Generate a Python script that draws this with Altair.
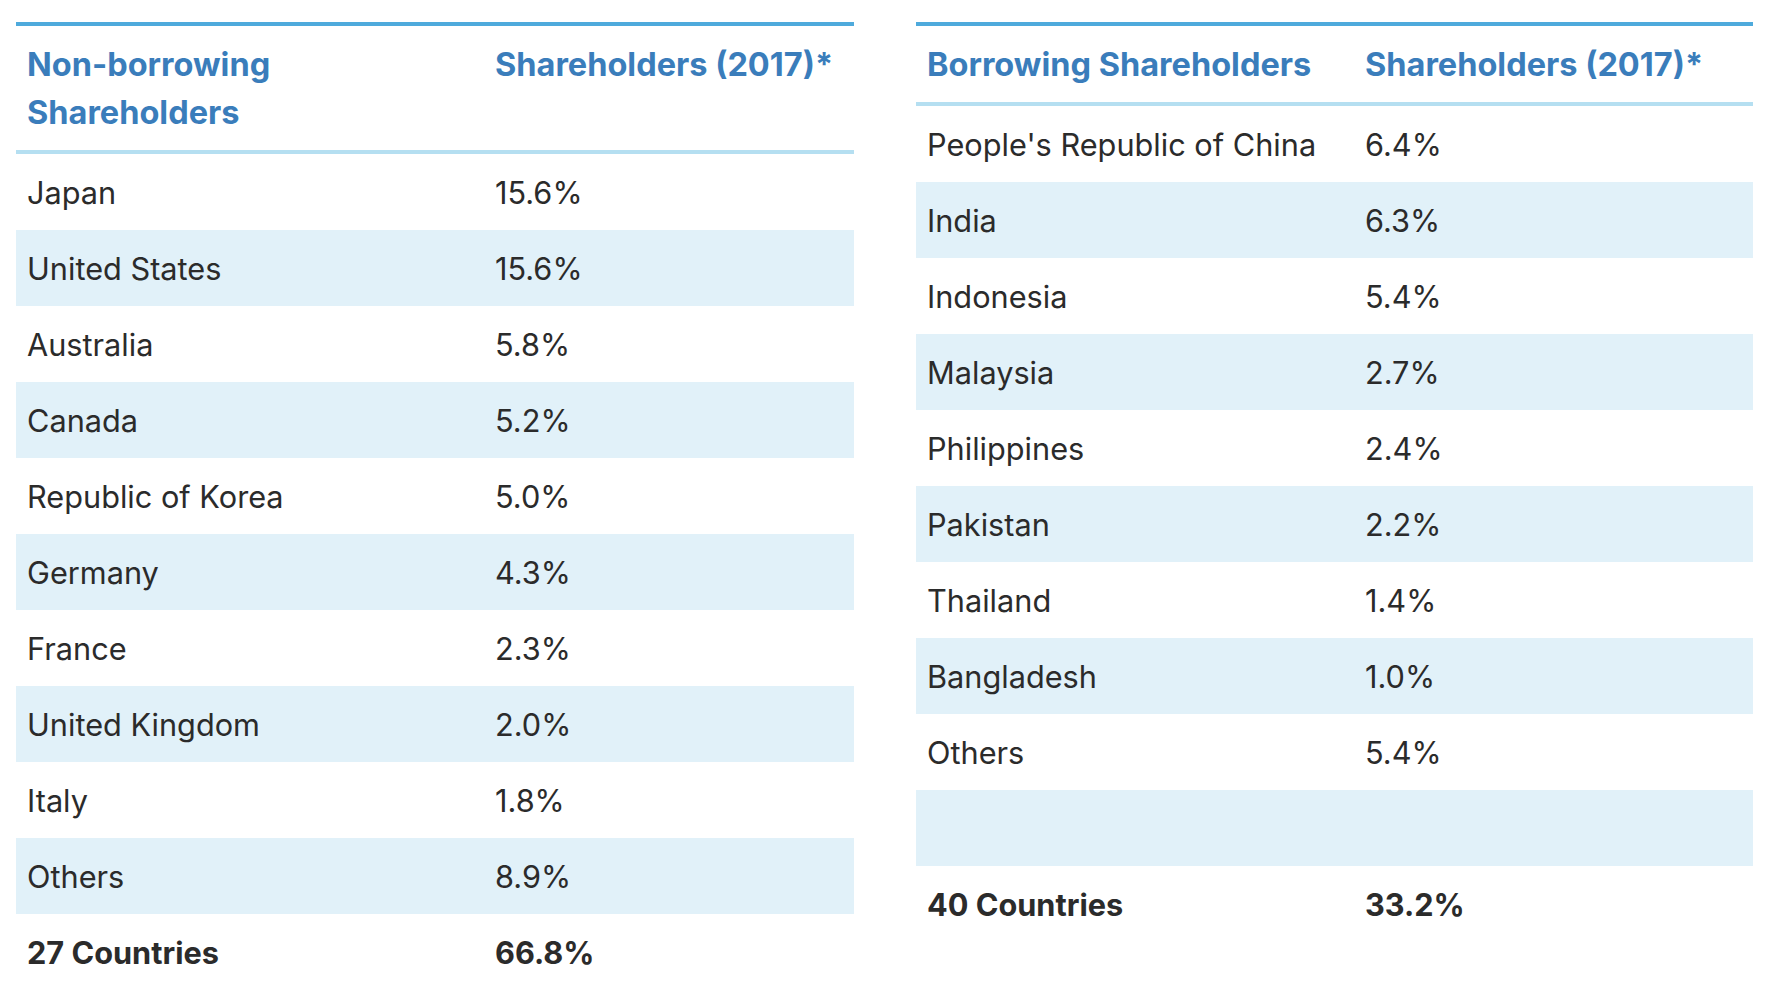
import altair as alt
import pandas as pd

# ---- data ----
left_header_lines = ["Non-borrowing", "Shareholders"]
left_value_header = "Shareholders (2017)*"
left_countries = ["Japan", "United States", "Australia", "Canada", "Republic of Korea",
                  "Germany", "France", "United Kingdom", "Italy", "Others"]
left_shares = [15.6, 15.6, 5.8, 5.2, 5.0, 4.3, 2.3, 2.0, 1.8, 8.9]
left_total_label = "27 Countries"
left_total_value = 66.8

right_header_lines = ["Borrowing Shareholders"]
right_value_header = "Shareholders (2017)*"
right_countries = ["People's Republic of China", "India", "Indonesia", "Malaysia",
                   "Philippines", "Pakistan", "Thailand", "Bangladesh", "Others"]
right_shares = [6.4, 6.3, 5.4, 2.7, 2.4, 2.2, 1.4, 1.0, 5.4]
right_total_label = "40 Countries"
right_total_value = 33.2

# ---- styles ----
FONT = "Inter"
FS = 30.7
HFS = 32.5
TEXT_COLOR = "#2b2b2b"
HEAD_COLOR = "#3a7dbb"
TOP_LINE = "#4eaadc"
HEAD_LINE = "#b5dff1"
BAND = "#e1f1f9"
ROW_H = 76
LINE_H = 48
PAD_X = 11
PANEL_H = 968
TEXT_SHIFT = 3
HEAD_SHIFT = 2


def make_table(header_lines, value_header, countries, shares, total_label,
               total_value, n_rows, width, value_x):
    header_h = 4 + 28 + LINE_H * len(header_lines)
    rows_top = header_h + 4
    labels = countries + [""] * (n_rows - len(countries)) + [total_label]
    values = [f"{v:.1f}%" for v in shares] + [""] * (n_rows - len(countries)) + [f"{total_value:.1f}%"]
    recs = []
    for i, (lab, val) in enumerate(zip(labels, values)):
        top = rows_top + ROW_H * i
        recs.append(dict(i=i, label=lab, value=val, top=top, bottom=top + ROW_H,
                         mid=top + ROW_H / 2 + TEXT_SHIFT, total=(i == len(labels) - 1),
                         band=(i % 2 == 1)))
    df = pd.DataFrame(recs)

    xs = alt.Scale(domain=[0, width], nice=False, zero=False)
    ys = alt.Scale(domain=[0, PANEL_H], nice=False, zero=False, reverse=True)

    base = alt.Chart(df)
    bands = base.transform_filter("datum.band").mark_rect(color=BAND).encode(
        x=alt.X("x0:Q", scale=xs, axis=None), x2="x1:Q",
        y=alt.Y("top:Q", scale=ys, axis=None), y2="bottom:Q",
    ).transform_calculate(x0="0", x1=str(width))

    lines_df = pd.DataFrame([
        dict(y0=0, y1=4, c=TOP_LINE),
        dict(y0=header_h, y1=header_h + 4, c=HEAD_LINE),
    ])
    lines = alt.Chart(lines_df).mark_rect().encode(
        x=alt.X("x0:Q", scale=xs, axis=None), x2="x1:Q",
        y=alt.Y("y0:Q", scale=ys, axis=None), y2="y1:Q",
        color=alt.Color("c:N", scale=None),
    ).transform_calculate(x0="0", x1=str(width))

    def text_layer(field, xpos, bold):
        return base.transform_filter(
            "datum.total" if bold else "!datum.total"
        ).transform_calculate(xp=str(xpos)).mark_text(
            align="left", baseline="middle", font=FONT, fontSize=FS,
            fontWeight="bold" if bold else "normal", color=TEXT_COLOR,
        ).encode(
            x=alt.X("xp:Q", scale=xs, axis=None),
            y=alt.Y("mid:Q", scale=ys, axis=None),
            text=f"{field}:N",
        )

    head_recs = [dict(t=t, xp=PAD_X, ym=4 + 14 + LINE_H / 2 + LINE_H * k + HEAD_SHIFT)
                 for k, t in enumerate(header_lines)]
    head_recs.append(dict(t=value_header, xp=value_x, ym=4 + 14 + LINE_H / 2 + HEAD_SHIFT))
    heads = alt.Chart(pd.DataFrame(head_recs)).mark_text(
        align="left", baseline="middle", font=FONT, fontSize=HFS,
        fontWeight="bold", color=HEAD_COLOR,
    ).encode(
        x=alt.X("xp:Q", scale=xs, axis=None),
        y=alt.Y("ym:Q", scale=ys, axis=None),
        text="t:N",
    )

    return alt.layer(
        bands, lines,
        text_layer("label", PAD_X, False), text_layer("value", value_x, False),
        text_layer("label", PAD_X, True), text_layer("value", value_x, True),
        heads,
    ).properties(width=width, height=PANEL_H)


left = make_table(left_header_lines, left_value_header, left_countries, left_shares,
                  left_total_label, left_total_value, 10, 838, 479)
right = make_table(right_header_lines, right_value_header, right_countries, right_shares,
                   right_total_label, right_total_value, 10, 837, 449)

chart = alt.hconcat(left, right, spacing=62).properties(
    padding={"left": 8, "top": 14, "right": 0, "bottom": 0}
).configure_view(stroke=None)

chart.save("out.html", embed_options={"renderer": "svg", "actions": False})
